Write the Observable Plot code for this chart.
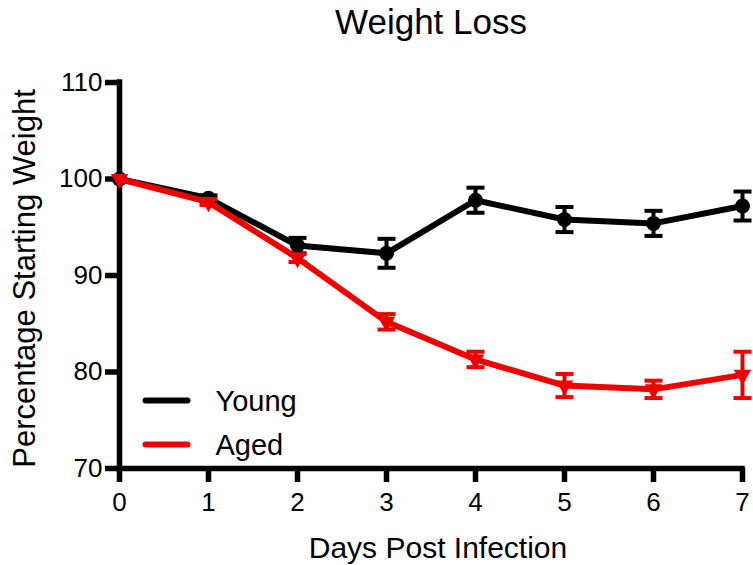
<!DOCTYPE html>
<html>
<head>
<meta charset="utf-8">
<script src="https://cdn.jsdelivr.net/npm/d3@7"></script>
<script src="https://cdn.jsdelivr.net/npm/@observablehq/plot@0.6"></script>
<style>
  html, body { margin: 0; padding: 0; background: #fff; }
  #chart svg { display: block; overflow: visible; }
</style>
</head>
<body>
<div id="chart"></div>
<script>
// Days post infection
const days = [0, 1, 2, 3, 4, 5, 6, 7];

// Percentage of starting weight (mean ± SEM)
const youngMean = [100, 98.0, 93.1, 92.3, 97.8, 95.8, 95.4, 97.2];
const youngSem  = [0, 0.3, 0.8, 1.5, 1.3, 1.3, 1.3, 1.5];
const agedMean  = [100, 97.6, 91.8, 85.2, 81.3, 78.6, 78.2, 79.7];
const agedSem   = [0, 0.3, 0.4, 0.8, 0.8, 1.2, 0.9, 2.4];

const groups = ["Young", "Aged"];
const yTicks = [70, 80, 90, 100, 110];
const xTicks = [0, 1, 2, 3, 4, 5, 6, 7];

const colors = {Young: "#000000", Aged: "#ee0000"};
const font = "'Liberation Sans', Arial, Helvetica, sans-serif";

const toRows = (group, mean, sem) =>
  days.map((d, i) => ({group, day: d, mean: mean[i], lo: mean[i] - sem[i], hi: mean[i] + sem[i], sem: sem[i]}));

const young = toRows("Young", youngMean, youngSem);
const aged = toRows("Aged", agedMean, agedSem);

// Horizontal bar used for error-bar caps and legend swatches
const hbar = {
  draw(context, size) {
    const r = Math.sqrt(size / Math.PI);
    context.moveTo(-r, 0);
    context.lineTo(r, 0);
  }
};

function seriesMarks(rows, color, symbol, symbolR, rotate) {
  const withErr = rows.filter(d => d.sem > 0);
  return [
    Plot.line(rows, {x: "day", y: "mean", stroke: color, strokeWidth: 6, strokeLinejoin: "round"}),
    Plot.ruleX(withErr, {x: "day", y1: "lo", y2: "hi", stroke: color, strokeWidth: 4}),
    Plot.dot(withErr, {x: "day", y: "lo", symbol: hbar, r: 9, stroke: color, strokeWidth: 4}),
    Plot.dot(withErr, {x: "day", y: "hi", symbol: hbar, r: 9, stroke: color, strokeWidth: 4}),
    Plot.dot(rows, {x: "day", y: "mean", symbol, r: symbolR, fill: color, stroke: "none", rotate})
  ];
}

// Legend entry: swatch line plus label, anchored to the lower-left of the frame
function legendEntry(name, dy) {
  return [
    Plot.dot([name], {frameAnchor: "bottom-left", dx: 47, dy, symbol: hbar, r: 21,
      stroke: colors[name], strokeWidth: 6, strokeLinecap: "round"}),
    Plot.text([name], {frameAnchor: "bottom-left", dx: 96, dy: dy + 1, textAnchor: "start",
      lineAnchor: "middle", fontSize: 29, fill: "#000"})
  ];
}

const chart = Plot.plot({
  width: 753,
  height: 565,
  marginLeft: 119,
  marginRight: 11,
  marginTop: 82,
  marginBottom: 97,
  style: {fontFamily: font, fontSize: "26px", background: "#fff", color: "#000"},
  x: {domain: [0, 7], ticks: xTicks},
  y: {domain: [70, 110], ticks: yTicks},
  marks: [
    Plot.axisX({ticks: xTicks, tickSize: 14, tickPadding: 10, strokeWidth: 5.5, fontSize: 26, label: null, tickFormat: d => String(d)}),
    Plot.axisY({ticks: yTicks, tickSize: 14, tickPadding: 3, strokeWidth: 5.5, fontSize: 26, label: null, tickFormat: d => String(d)}),
    Plot.ruleX([0], {stroke: "#000", strokeWidth: 5.5, strokeLinecap: "square"}),
    Plot.ruleY([70], {stroke: "#000", strokeWidth: 5.5, strokeLinecap: "square"}),

    ...seriesMarks(young, colors.Young, "circle", 7.5, 0),
    ...seriesMarks(aged, colors.Aged, "triangle", 6.5, 180),

    ...legendEntry("Young", -68),
    ...legendEntry("Aged", -24),

    // Titles
    Plot.text(["Weight Loss"], {frameAnchor: "top", dy: -60, lineAnchor: "middle", fontSize: 35, fill: "#000"}),
    Plot.text(["Days Post Infection"], {frameAnchor: "bottom", dx: 7, dy: 80, lineAnchor: "middle", fontSize: 30, fill: "#000"}),
    Plot.text(["Percentage Starting Weight"], {frameAnchor: "left", dx: -94, dy: 3, rotate: -90,
      textAnchor: "middle", lineAnchor: "middle", fontSize: 31, fill: "#000"})
  ]
});

document.getElementById("chart").appendChild(chart);
</script>
</body>
</html>
